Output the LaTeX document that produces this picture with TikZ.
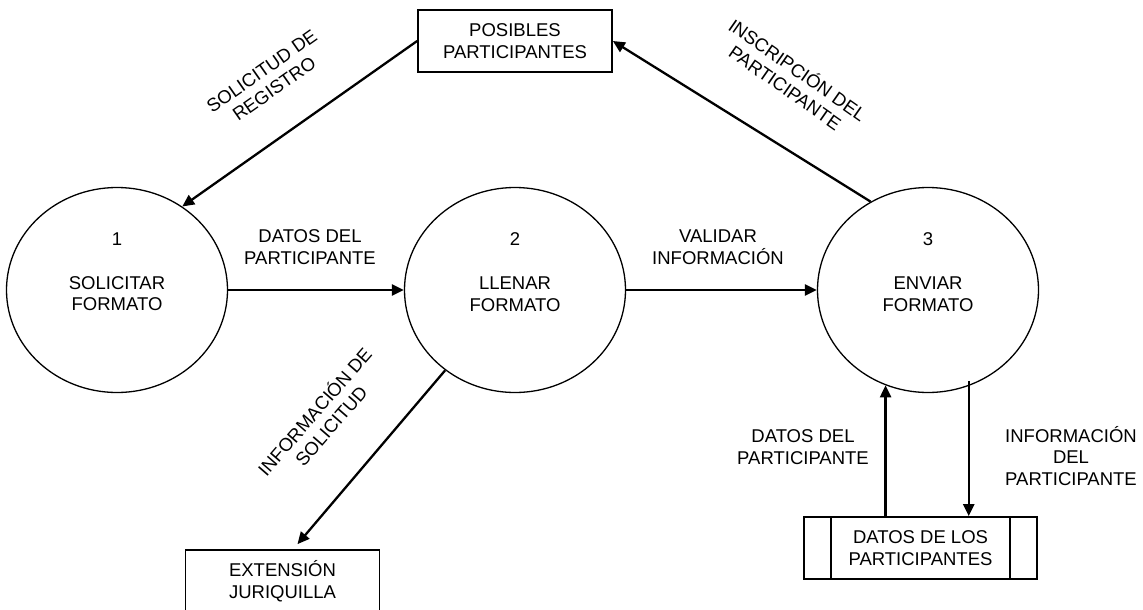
\documentclass[tikz,border=0pt]{standalone}
\usepackage{fontspec}
\setmainfont{Liberation Sans}
\usetikzlibrary{shapes.geometric,arrows.meta}

\begin{document}
\begin{tikzpicture}[x=1pt,y=-1pt,
    every node/.style={font=\fontsize{18.5}{21.7}\selectfont, align=center},
    proceso/.style={draw, ellipse, line width=1.3pt, minimum width=221pt, minimum height=205pt, inner sep=0pt},
    entidad/.style={draw, rectangle, line width=1.7pt, minimum width=194pt, minimum height=62pt, inner sep=0pt},
    almacen/.style={draw, rectangle, line width=1.7pt, minimum width=233pt, minimum height=62pt, inner sep=0pt},
    flujo/.style={line width=2.3pt, -{Triangle[length=12pt,width=11pt]}}]
    \useasboundingbox (0,0) rectangle (1143,610);

    % procesos
    \node[proceso] (p1) at (117,290) {};
    \node[proceso] (p2) at (515,290) {};
    \node[proceso] (p3) at (928,290) {};
    \node (t1) at (117,272) {1\\[22pt]SOLICITAR\\FORMATO};
    \node (t2) at (515,272) {2\\[22pt]LLENAR\\FORMATO};
    \node (t3) at (928,272) {3\\[22pt]ENVIAR\\FORMATO};

    % entidades y almacen
    \node[entidad] (pos) at (515,41) {POSIBLES\\PARTICIPANTES};
    \node[entidad] (ext) at (282.5,581) {EXTENSIÓN\\JURIQUILLA};
    \node[almacen] (st) at (920.5,548) {DATOS DE LOS\\PARTICIPANTES};
    \draw[line width=1.7pt] ([xshift=28pt]st.north west) -- ([xshift=28pt]st.south west);
    \draw[line width=1.7pt] ([xshift=-28pt]st.north east) -- ([xshift=-28pt]st.south east);

    % flujos
    \draw[flujo] (pos.west) -- (p1.52);
    \draw[flujo] (p1.east) -- (p2.west);
    \draw[flujo] (p2.east) -- (p3.west);
    \draw[flujo] (p3.123) -- (pos.east);
    \draw[flujo] (p2.229) -- ([xshift=15pt,yshift=5pt]ext.north);
    \draw[flujo] (st.north -| p3.246) -- (p3.246);
    \draw[flujo] ([yshift=5pt]p3.293) -- (st.north -| p3.293);

    % etiquetas
    \node[rotate=35] (l1) at (268,80) {SOLICITUD DE\\REGISTRO};
    \node[rotate=-35] (l2) at (792,78) {INSCRIPCIÓN DEL\\PARTICIPANTE};
    \node (l3) at (310,247) {DATOS DEL\\PARTICIPANTE};
    \node (l4) at (718,247) {VALIDAR\\INFORMACIÓN};
    \node[rotate=49] (l5) at (322,418) {INFORMACIÓN DE\\SOLICITUD};
    \node (l6) at (803,447) {DATOS DEL\\PARTICIPANTE};
    \node (l7) at (1071,456) {INFORMACIÓN\\DEL\\PARTICIPANTE};
\end{tikzpicture}
\end{document}
